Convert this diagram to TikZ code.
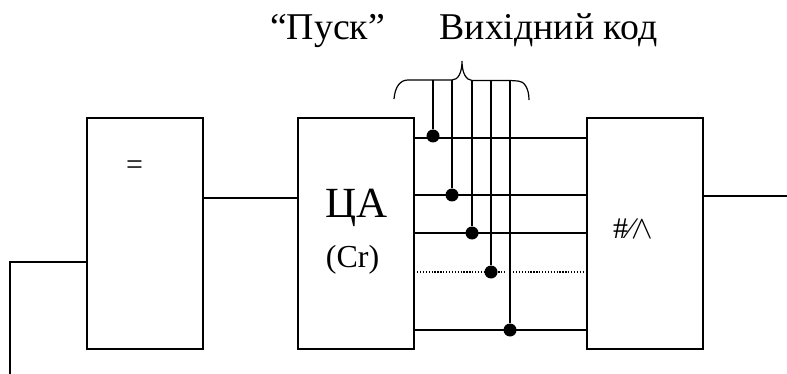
\documentclass[tikz,border=0pt]{standalone}
\usepackage{fontspec}
\setmainfont{Liberation Serif}
\begin{document}
\begin{tikzpicture}[x=1pt,y=-1pt,
  blk/.style={draw,line width=1.2pt,minimum width=116pt,minimum height=231pt,inner sep=0pt,fill=none},
  wire/.style={line width=1.2pt},
  dotnode/.style={circle,fill=black,inner sep=0pt,minimum size=13pt},
  lbl/.style={inner sep=0pt,font=\fontsize{37.8}{40}\selectfont,anchor=base}]
\useasboundingbox (0,0) rectangle (787,374);
\node[blk] (b1) at (145,233.5) {};
\node[blk] (b2) at (356,233.5) {};
\node[blk] (b3) at (645,233.5) {};
\node[dotnode] (d1) at (433,136) {};
\node[dotnode] (d2) at (452,195) {};
\node[dotnode] (d3) at (472,233) {};
\node[dotnode] (d4) at (491,272) {};
\node[dotnode] (d5) at (510,330) {};
\coordinate (l1) at (433,138);
\coordinate (gapA) at (505,272);
\coordinate (gapB) at (513,272);
\coordinate (dotStart) at (417,272);
\coordinate (t1) at (433,80);
\coordinate (t2) at (452,80);
\coordinate (t3) at (472,80.5);
\coordinate (t4) at (491,80.5);
\coordinate (t5) at (510,80.5);
\coordinate (braceL) at (394,99);
\coordinate (braceR) at (529,100);
\coordinate (braceT) at (462,61);
\coordinate (inEnd) at (10,374);
\coordinate (inCorner) at (10,262);
\coordinate (outEnd) at (787,196);
\coordinate (mid) at (250,198);
% buses
\draw[wire] (b2.east |- l1) -- (b3.west |- l1);
\draw[wire] (b2.east |- d2) -- (b3.west |- d2);
\draw[wire] (b2.east |- d3) -- (b3.west |- d3);
\draw[wire,line width=1.1pt,dash pattern=on 1.3pt off 1.6pt] (dotStart) -- (gapA) (gapB) -- (b3.west |- d4);
\draw[wire] (b2.east |- d5) -- (b3.west |- d5);
% taps
\draw[wire] (t1) -- (d1);
\draw[wire] (t2) -- (d2);
\draw[wire] (t3) -- (d3);
\draw[wire] (t4) -- (d4);
\draw[wire] (t5) -- (d5);
% brace
\draw[wire] (braceL) .. controls (395,87) and (400,80) .. (408,80) -- (t2)
  .. controls (458,80) and (462,73) .. (braceT)
  .. controls (462,73) and (466,80) .. (t3) -- (t5) -- (518,81)
  .. controls (524,81) and (529,88) .. (braceR);
% side wires
\draw[wire] (b1.east |- mid) -- (b2.west |- mid);
\draw[wire] (b3.east |- outEnd) -- (outEnd);
\draw[wire] (inEnd) -- (inCorner) -- (b1.west |- inCorner);
% labels
\node[lbl] (pusk) at (327.5,40) {“Пуск”};
\node[lbl] (kod) at (548.5,40) {Вихідний код};
\node[inner sep=0pt,font=\fontsize{43}{46}\selectfont,anchor=base] (ca) at (356.5,218) {ЦА};
\node[inner sep=0pt,font=\fontsize{32}{36}\selectfont,anchor=base] (cr) at (352.5,267) {(Cr)};
\node[inner sep=0pt,font=\fontsize{30}{32}\selectfont,anchor=base] (eq) at (134.5,175) {=};
\node[inner sep=0pt,font=\fontsize{30}{32}\selectfont,anchor=base west] (op) at (613,238) {\#⁄\kern-2pt\scalebox{1.3}{$\wedge$}};
\end{tikzpicture}
\end{document}
